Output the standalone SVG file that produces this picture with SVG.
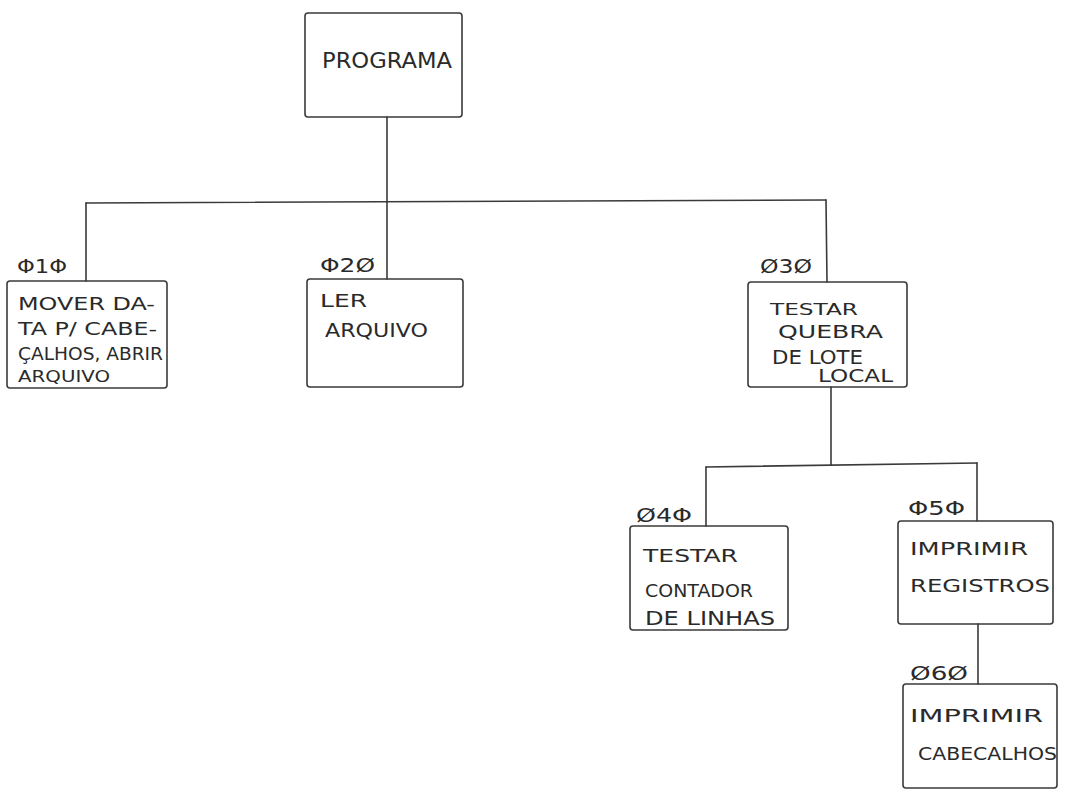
<svg xmlns="http://www.w3.org/2000/svg" width="1069" height="794" viewBox="0 0 1069 794">
<style>
.box{fill:none;stroke:#3a3a3a;stroke-width:1.6}
.ln{fill:none;stroke:#3a3a3a;stroke-width:1.6;stroke-linecap:round}
.t{font-family:"DejaVu Sans","Liberation Sans",sans-serif;font-size:18px;fill:#2a2a2a}
.lb{font-family:"DejaVu Sans","Liberation Sans",sans-serif;font-size:20px;fill:#2a2a2a}
</style>
<rect width="1069" height="794" fill="#ffffff"/>
<g id="connectors">
<line class="ln" x1="387" y1="117" x2="387" y2="202"/>
<line class="ln" x1="86" y1="203" x2="826" y2="200"/>
<line class="ln" x1="86" y1="203" x2="86" y2="281"/>
<line class="ln" x1="387" y1="202" x2="387" y2="279"/>
<line class="ln" x1="826" y1="200" x2="827" y2="282"/>
<line class="ln" x1="831" y1="387" x2="831" y2="465"/>
<line class="ln" x1="706" y1="467" x2="977" y2="463"/>
<line class="ln" x1="706" y1="467" x2="706" y2="526"/>
<line class="ln" x1="977" y1="463" x2="977" y2="521"/>
<line class="ln" x1="978" y1="624" x2="978" y2="684"/>
</g>
<g id="programa">
<rect class="box" x="305" y="13" width="157" height="104" rx="3"/>
<text class="t" x="322" y="68" textLength="130" lengthAdjust="spacingAndGlyphs" style="font-size:22px">PROGRAMA</text>
</g>
<g id="n010">
<text class="lb" x="17" y="273" textLength="50" lengthAdjust="spacingAndGlyphs">Φ1Φ</text>
<rect class="box" x="7" y="281" width="160" height="107" rx="3"/>
<text class="t" x="18" y="310" textLength="137" lengthAdjust="spacingAndGlyphs">MOVER DA-</text>
<text class="t" x="18" y="335" textLength="139" lengthAdjust="spacingAndGlyphs">TA P/ CABE-</text>
<text class="t" x="18" y="360" textLength="145" lengthAdjust="spacingAndGlyphs">ÇALHOS, ABRIR</text>
<text class="t" x="18" y="382" textLength="92" lengthAdjust="spacingAndGlyphs" style="font-size:16px">ARQUIVO</text>
</g>
<g id="n020">
<text class="lb" x="320" y="272" textLength="55" lengthAdjust="spacingAndGlyphs">Φ2Ø</text>
<rect class="box" x="307" y="279" width="156" height="108" rx="3"/>
<text class="t" x="320" y="307" textLength="47" lengthAdjust="spacingAndGlyphs">LER</text>
<text class="t" x="325" y="337" textLength="103" lengthAdjust="spacingAndGlyphs" style="font-size:19px">ARQUIVO</text>
</g>
<g id="n030">
<text class="lb" x="760" y="273" textLength="52" lengthAdjust="spacingAndGlyphs">Ø3Ø</text>
<rect class="box" x="748" y="282" width="159" height="105" rx="3"/>
<text class="t" x="770" y="315" textLength="88" lengthAdjust="spacingAndGlyphs" style="font-size:16px">TESTAR</text>
<text class="t" x="778" y="338" textLength="105" lengthAdjust="spacingAndGlyphs">QUEBRA</text>
<text class="t" x="772" y="364" textLength="91" lengthAdjust="spacingAndGlyphs" style="font-size:19px">DE LOTE</text>
<text class="t" x="818" y="382" textLength="75" lengthAdjust="spacingAndGlyphs" style="font-size:17px">LOCAL</text>
</g>
<g id="n040">
<text class="lb" x="636" y="522" textLength="56" lengthAdjust="spacingAndGlyphs">Ø4Φ</text>
<rect class="box" x="630" y="526" width="158" height="104" rx="3"/>
<text class="t" x="643" y="562" textLength="95" lengthAdjust="spacingAndGlyphs">TESTAR</text>
<text class="t" x="645" y="597" textLength="108" lengthAdjust="spacingAndGlyphs">CONTADOR</text>
<text class="t" x="645" y="625" textLength="130" lengthAdjust="spacingAndGlyphs" style="font-size:19px">DE LINHAS</text>
</g>
<g id="n050">
<text class="lb" x="908" y="515" textLength="57" lengthAdjust="spacingAndGlyphs">Φ5Φ</text>
<rect class="box" x="898" y="521" width="155" height="103" rx="3"/>
<text class="t" x="910" y="555" textLength="118" lengthAdjust="spacingAndGlyphs">IMPRIMIR</text>
<text class="t" x="910" y="592" textLength="140" lengthAdjust="spacingAndGlyphs">REGISTROS</text>
</g>
<g id="n060">
<text class="lb" x="910" y="680" textLength="58" lengthAdjust="spacingAndGlyphs">Ø6Ø</text>
<rect class="box" x="903" y="684" width="154" height="104" rx="3"/>
<text class="t" x="910" y="722" textLength="133" lengthAdjust="spacingAndGlyphs">IMPRIMIR</text>
<text class="t" x="918" y="760" textLength="139" lengthAdjust="spacingAndGlyphs">CABECALHOS</text>
</g>
</svg>
